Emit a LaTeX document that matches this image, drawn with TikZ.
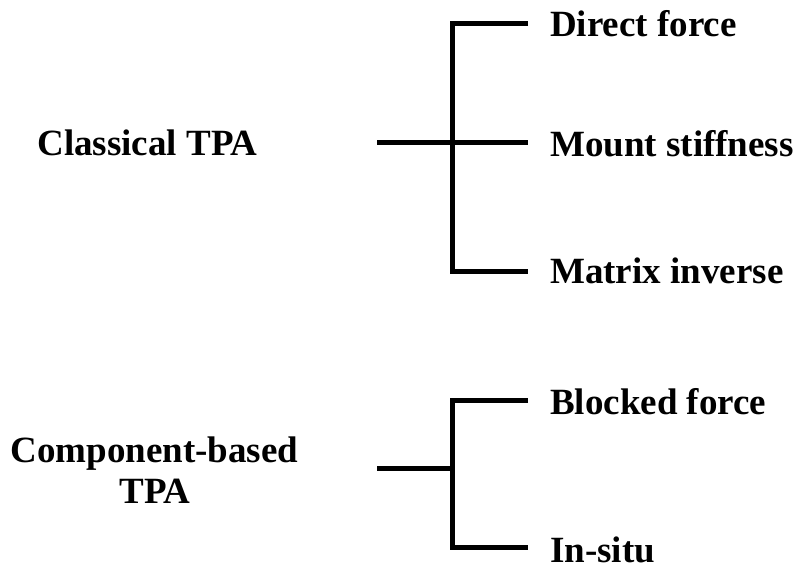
\documentclass[tikz,border=0pt]{standalone}
\usepackage{fontspec}
\setmainfont{Liberation Serif}
\begin{document}
\begin{tikzpicture}[x=1pt,y=-1pt,
  lbl/.style={inner sep=0pt,font=\bfseries\fontsize{37}{41}\selectfont},
  conn/.style={line width=5pt,line join=miter,line cap=butt}]
\useasboundingbox[fill=white] (0,0) rectangle (798,567);
% left labels
\node[lbl,anchor=base] (cl) at (147.5,156) {Classical TPA};
\node[lbl,anchor=base] (cb) at (154.5,462) {Component-based};
\node[lbl,anchor=base] (cbt) at (155,503) {TPA};
% right labels
\node[lbl,anchor=base west] (df) at (550,37) {Direct force};
\node[lbl,anchor=base west] (ms) at (550,157) {Mount stiffness};
\node[lbl,anchor=base west] (mi) at (550,283) {Matrix inverse};
\node[lbl,anchor=base west] (bf) at (550,414) {Blocked force};
\node[lbl,anchor=base west] (is) at (550,562) {In-situ};
% connector points, upper group
\coordinate (a0) at (377,142.5);
\coordinate (a1) at (452.5,24);
\coordinate (a2) at (452.5,271);
\coordinate (e1) at (528,24);
\coordinate (e2) at (528,142.5);
\coordinate (e3) at (528,271);
% connector points, lower group
\coordinate (b0) at (377,468);
\coordinate (bj) at (452.5,468);
\coordinate (b1) at (452.5,400.5);
\coordinate (b2) at (452.5,547.5);
\coordinate (f1) at (528,400.5);
\coordinate (f2) at (528,547.5);
% upper bracket
\draw[conn] (e1) -- (a1) -- (a2) -- (e3);
\draw[conn] (a0) -- (e2);
% lower bracket
\draw[conn] (f1) -- (b1) -- (b2) -- (f2);
\draw[conn] (b0) -- (bj);
\end{tikzpicture}
\end{document}
